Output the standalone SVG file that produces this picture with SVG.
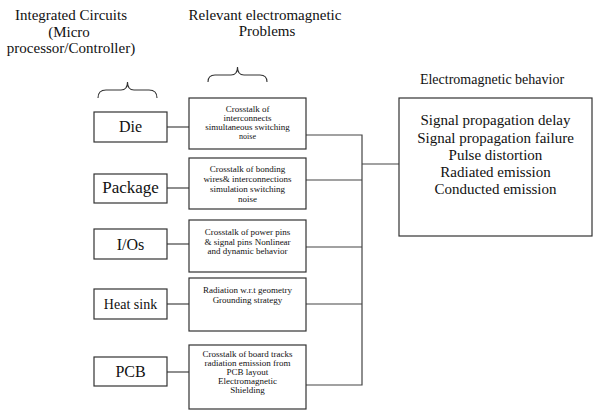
<svg xmlns="http://www.w3.org/2000/svg" width="593" height="412" viewBox="0 0 593 412">
<style>
.bg{fill:#fff}
.box{fill:#fff;stroke:#333;stroke-width:1.2}
.conn{fill:none;stroke:#444;stroke-width:1.2}
.brace{fill:none;stroke:#333;stroke-width:1.1}
text{font-family:"Liberation Serif","Times New Roman",serif;fill:#111;text-anchor:middle}
.hdr{font-size:15px}
.lbl{font-size:16px}
.sm{font-size:9px}
.big{font-size:15px}
</style>
<rect class="bg" x="0" y="0" width="593" height="412"/>
<g id="headers">
<text class="hdr" x="71" y="20">Integrated Circuits</text>
<text class="hdr" x="69" y="37">(Micro</text>
<text class="hdr" x="71" y="53">processor/Controller)</text>
<text class="hdr" x="265" y="20">Relevant electromagnetic</text>
<text class="hdr" x="267" y="36">Problems</text>
<text class="hdr" x="492" y="84" style="font-size:14px">Electromagnetic behavior</text>
<path class="brace" d="M98,98 Q98,90 106,90 L121,90 Q127.5,90 127.5,82 Q127.5,90 134,90 L149,90 Q157,90 157,98"/>
<path class="brace" d="M208,82 Q208,75 215,75 L231,75 Q237.5,75 237.5,67 Q237.5,75 244,75 L260,75 Q267,75 267,82"/>
</g>
<g id="connectors">
<line class="conn" x1="167" y1="127" x2="189" y2="127"/>
<line class="conn" x1="167" y1="188" x2="189" y2="188"/>
<line class="conn" x1="167" y1="244" x2="189" y2="244"/>
<line class="conn" x1="167" y1="304" x2="189" y2="304"/>
<line class="conn" x1="167" y1="372" x2="189" y2="372"/>
<polyline class="conn" points="306,135 362,135 362,385 306,385"/>
<line class="conn" x1="306" y1="180" x2="362" y2="180"/>
<line class="conn" x1="306" y1="247" x2="362" y2="247"/>
<line class="conn" x1="306" y1="304" x2="362" y2="304"/>
<line class="conn" x1="362" y1="164" x2="399" y2="164"/>
</g>
<g id="die">
<rect class="box" x="94" y="112" width="73" height="30"/>
<text class="lbl" x="130.5" y="132">Die</text>
</g>
<g id="package">
<rect class="box" x="94" y="174" width="73" height="29"/>
<text class="lbl" x="130.5" y="193" style="font-size:17px">Package</text>
</g>
<g id="ios">
<rect class="box" x="94" y="229" width="73" height="30"/>
<text class="lbl" x="130.5" y="250">I/Os</text>
</g>
<g id="heatsink">
<rect class="box" x="94" y="289" width="73" height="30"/>
<text class="lbl" x="130.5" y="309" style="font-size:14px">Heat sink</text>
</g>
<g id="pcb">
<rect class="box" x="94" y="357" width="73" height="29"/>
<text class="lbl" x="130.5" y="377">PCB</text>
</g>
<g id="p-die">
<rect class="box" x="189" y="98" width="117" height="51"/>
<text class="sm" x="247.5" y="112">Crosstalk of</text>
<text class="sm" x="247.5" y="121">interconnects</text>
<text class="sm" x="247.5" y="130">simultaneous switching</text>
<text class="sm" x="247.5" y="139" style="font-size:8px">noise</text>
</g>
<g id="p-package">
<rect class="box" x="189" y="158" width="117" height="51"/>
<text class="sm" x="247.5" y="172">Crosstalk of bonding</text>
<text class="sm" x="247.5" y="182">wires&amp; interconnections</text>
<text class="sm" x="247.5" y="192">simulation switching</text>
<text class="sm" x="247.5" y="202">noise</text>
</g>
<g id="p-ios">
<rect class="box" x="189" y="220" width="117" height="52"/>
<text class="sm" x="247.5" y="235">Crosstalk of power pins</text>
<text class="sm" x="247.5" y="245">&amp; signal pins Nonlinear</text>
<text class="sm" x="247.5" y="254">and dynamic behavior</text>
</g>
<g id="p-heatsink">
<rect class="box" x="189" y="278" width="117" height="53"/>
<text class="sm" x="247.5" y="293">Radiation w.r.t geometry</text>
<text class="sm" x="247.5" y="303">Grounding strategy</text>
</g>
<g id="p-pcb">
<rect class="box" x="189" y="345" width="117" height="64"/>
<text class="sm" x="247.5" y="357">Crosstalk of board tracks</text>
<text class="sm" x="247.5" y="366">radiation emission from</text>
<text class="sm" x="247.5" y="375">PCB layout</text>
<text class="sm" x="247.5" y="384">Electromagnetic</text>
<text class="sm" x="247.5" y="393">Shielding</text>
</g>
<g id="behavior">
<rect class="box" x="399" y="98" width="193" height="138"/>
<text class="big" x="495.5" y="125">Signal propagation delay</text>
<text class="big" x="495.5" y="143">Signal propagation failure</text>
<text class="big" x="495.5" y="160">Pulse distortion</text>
<text class="big" x="495.5" y="177">Radiated emission</text>
<text class="big" x="495.5" y="194">Conducted emission</text>
</g>
</svg>
